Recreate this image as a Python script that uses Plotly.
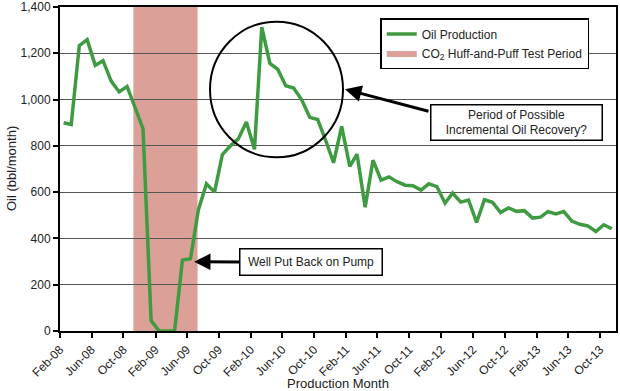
import pandas as pd
import plotly.graph_objects as go

# ---- data ----
start_month = "2008-02-01"
n_months = 70
oil = [900, 892, 1233, 1259, 1148, 1168, 1080, 1033, 1057, 965,
       874, 45, 0, 0, 0, 307, 312, 523, 636, 600,
       762, 800, 830, 903, 785, 1313, 1156, 1131, 1060, 1050,
       999, 923, 914, 823, 727, 884, 711, 764, 535, 738,
       652, 666, 645, 630, 628, 609, 636, 624, 552, 596,
       557, 566, 469, 567, 556, 512, 532, 517, 520, 488,
       492, 516, 506, 516, 475, 461, 454, 430, 459, 442]
shade_start = "2008-11-08"
shade_end = "2009-07-12"
y_ticks = [0, 200, 400, 600, 800, 1000, 1200, 1400]

months = pd.date_range(start_month, periods=n_months, freq="MS")
x_mid = months + pd.Timedelta(days=14)

FONT = "Liberation Sans, Arial, Helvetica, sans-serif"
GREEN = "#3f9b41"
SHADE = "#dba198"

fig = go.Figure()

# legend-only entry for the shaded period
fig.add_trace(go.Scatter(
    x=[None], y=[None], mode="lines", fill="toself",
    fillcolor=SHADE, line=dict(width=0, color=SHADE),
    name="CO<sub>2</sub> Huff-and-Puff Test Period", legendrank=2,
))

fig.add_trace(go.Scatter(
    x=x_mid, y=oil, mode="lines", name="Oil Production",
    line=dict(color=GREEN, width=3.5), legendrank=1,
))

fig.add_shape(type="rect", xref="x", yref="paper",
              x0=shade_start, x1=shade_end, y0=0, y1=1,
              fillcolor=SHADE, line=dict(width=0), layer="below")

# circle highlighting the possible incremental recovery
fig.add_shape(type="circle", xref="paper", yref="paper",
              x0=0.2698, x1=0.509, y0=0.536, y1=0.9546,
              line=dict(color="black", width=2))

# arrow to the circle
fig.add_annotation(xref="paper", yref="paper", x=0.5126, y=0.746,
                   ax=85, ay=22.4, text="", showarrow=True,
                   arrowhead=2, arrowsize=1.1, arrowwidth=3,
                   arrowcolor="black")
fig.add_annotation(xref="paper", yref="paper", x=(516.3 - 60) / 556,
                   y=1 - (122.7 - 7) / 324, xanchor="center", yanchor="middle",
                   text="Period of Possible<br>Incremental Oil Recovery?",
                   showarrow=False, bordercolor="black", borderwidth=1.5,
                   bgcolor="white", borderpad=2, width=166, height=30,
                   font=dict(family=FONT, size=12, color="#222"))

# well put back on pump
fig.add_annotation(xref="paper", yref="paper", x=(194 - 60) / 556,
                   y=1 - (261.7 - 7) / 324, ax=117, ay=0.5,
                   text="Well Put Back on Pump", showarrow=True,
                   arrowhead=2, arrowsize=1.1, arrowwidth=3,
                   arrowcolor="black", bordercolor="black", borderwidth=1.5,
                   bgcolor="white", borderpad=2, width=137, height=21,
                   font=dict(family=FONT, size=12, color="#222"))

# axis titles
fig.add_annotation(xref="paper", yref="paper", x=0.5, y=1 - (383 - 7) / 324,
                   text="Production Month", showarrow=False,
                   xanchor="center", yanchor="middle",
                   font=dict(family=FONT, size=13, color="#222"))
fig.add_annotation(xref="paper", yref="paper", x=(11 - 60) / 556, y=0.5,
                   text="Oil (bbl/month)", showarrow=False, textangle=-90,
                   xanchor="center", yanchor="middle",
                   font=dict(family=FONT, size=13, color="#222"))

fig.update_layout(
    width=620, height=391,
    margin=dict(l=60, r=4, t=7, b=60, autoexpand=False),
    paper_bgcolor="white", plot_bgcolor="white",
    font=dict(family=FONT, size=12, color="#222"),
    showlegend=True,
    legend=dict(x=0.576, y=0.966, xanchor="left", yanchor="top",
                bordercolor="black", borderwidth=1.5, bgcolor="white",
                font=dict(family=FONT, size=12, color="#222"),
                tracegroupgap=0, itemwidth=30),
)

fig.update_xaxes(
    type="date", range=[months[0], months[-1] + pd.offsets.MonthBegin(1)],
    tick0=start_month, dtick="M4", tickformat="%b-%y", tickangle=-45,
    ticks="outside", ticklen=5, tickwidth=1.5, tickcolor="black",
    showgrid=False, showline=True, linecolor="black", linewidth=2,
    mirror=True, zeroline=False, automargin=False,
    tickfont=dict(family=FONT, size=12, color="#222"),
)
fig.update_yaxes(
    range=[0, 1400], tickvals=y_ticks, tickformat=",",
    ticks="outside", ticklen=5, tickwidth=1.5, tickcolor="black",
    showgrid=True, gridcolor="#555", gridwidth=1.3,
    showline=True, linecolor="black", linewidth=2, mirror=True,
    zeroline=False, automargin=False,
    tickfont=dict(family=FONT, size=12, color="#222"),
)

fig.write_html("out.html",
               config={"displayModeBar": False},
               post_script="document.body.style.margin='0';"
                           "document.body.style.overflow='hidden';")
